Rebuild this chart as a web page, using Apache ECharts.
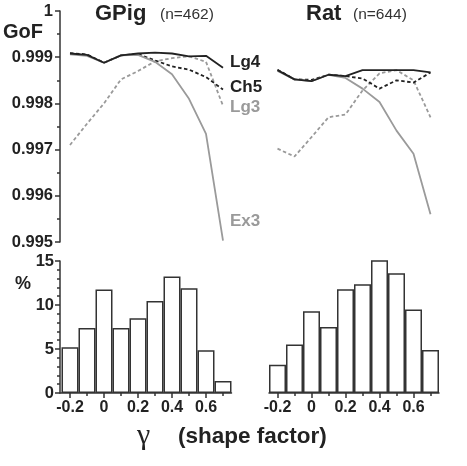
<!DOCTYPE html>
<html>
<head>
<meta charset="utf-8">
<script src="https://cdn.jsdelivr.net/npm/echarts@6/dist/echarts.min.js"></script>
<style>
html, body { margin: 0; padding: 0; background: #fff; }
#chart { width: 467px; height: 466px; }
</style>
</head>
<body>
<div id="chart"></div>
<script>
// shape factor values (x) shared by all panels
var gammaX = [-0.2, -0.1, 0, 0.1, 0.2, 0.3, 0.4, 0.5, 0.6, 0.7];
var majorTicks = [-0.2, 0, 0.2, 0.4, 0.6];
var minorTicks = [-0.1, 0.1, 0.3, 0.5, 0.7];

// GoF curves, guinea pig
var gpigLg4 = [0.99908, 0.99905, 0.99888, 0.99904, 0.99908, 0.9991, 0.99908, 0.99902, 0.99903, 0.99877];
var gpigCh5 = [0.99909, 0.99906, 0.99888, 0.99904, 0.99907, 0.99893, 0.9988, 0.99873, 0.99857, 0.9983];
var gpigLg3 = [0.9971, 0.99756, 0.998, 0.99852, 0.9987, 0.99891, 0.99898, 0.99902, 0.9989, 0.99795];
var gpigEx3 = [0.99906, 0.99903, 0.99888, 0.99904, 0.99905, 0.9989, 0.99863, 0.9981, 0.99734, 0.99503];

// GoF curves, rat
var ratLg4 = [0.99872, 0.99852, 0.99848, 0.99862, 0.99859, 0.99872, 0.99872, 0.99872, 0.99872, 0.99867];
var ratCh5 = [0.99873, 0.99852, 0.99851, 0.99862, 0.99859, 0.99854, 0.99832, 0.9985, 0.99845, 0.99867];
var ratLg3 = [0.99702, 0.99685, 0.99727, 0.9977, 0.99776, 0.99828, 0.99865, 0.99872, 0.9985, 0.9977];
var ratEx3 = [0.9987, 0.99852, 0.99848, 0.99862, 0.99855, 0.99832, 0.99803, 0.99741, 0.99691, 0.9956];

// histograms (%)
var gpigPct = [5.2, 7.4, 11.75, 7.4, 8.5, 10.45, 13.25, 11.9, 4.85, 1.35];
var ratPct = [3.2, 5.5, 9.3, 7.5, 11.8, 12.35, 15.45, 13.6, 9.5, 4.9];

var DARK = '#222';
var GREY = '#9a9a9a';
var FONT = 'Liberation Sans';

function pairs(xs, ys) {
    return xs.map(function (x, i) { return [x, ys[i]]; });
}

function lineSeries(grid, ys, color, dashed) {
    return {
        type: 'line',
        xAxisIndex: grid * 2,
        yAxisIndex: grid,
        data: pairs(gammaX, ys),
        symbol: 'none',
        silent: true,
        lineStyle: { color: color, width: 1.8, type: dashed ? [3.5, 2.5] : 'solid' },
        z: dashed ? 3 : 4
    };
}

function barSeries(grid, ys) {
    return {
        type: 'bar',
        xAxisIndex: grid * 2,
        yAxisIndex: grid,
        data: pairs(gammaX, ys),
        barWidth: 17,
        silent: true,
        itemStyle: { color: '#fff', borderColor: '#333', borderWidth: 1.5 }
    };
}

// two x axes per grid: major ticks with labels, minor short ticks
function xAxes(grid, min, max, visible) {
    return [{
        type: 'value', gridIndex: grid, min: min, max: max, position: 'bottom',
        show: visible,
        splitLine: { show: false },
        axisLine: { onZero: false, lineStyle: { color: '#333', width: 1.5 } },
        axisTick: { customValues: majorTicks, length: 5, lineStyle: { color: '#333', width: 1.5 } },
        axisLabel: {
            customValues: majorTicks, margin: 7, color: DARK,
            fontFamily: FONT, fontWeight: 'bold', fontSize: 16
        }
    }, {
        type: 'value', gridIndex: grid, min: min, max: max, position: 'bottom',
        show: visible,
        splitLine: { show: false },
        axisLine: { show: false },
        axisTick: { customValues: minorTicks, length: 3, lineStyle: { color: '#333', width: 1.5 } },
        axisLabel: { show: false }
    }];
}

var chart = echarts.init(document.getElementById('chart'));

var option = {
    animation: false,
    grid: [
        { left: 60, top: 11, width: 171.5, height: 231 },
        { left: 269, top: 11, width: 170, height: 231 },
        { left: 60, top: 261, width: 171.5, height: 132 },
        { left: 269, top: 261, width: 170, height: 132 }
    ],
    xAxis: [].concat(
        xAxes(0, -0.2588, 0.75, false),
        xAxes(1, -0.25, 0.75, false),
        xAxes(2, -0.2588, 0.75, true),
        xAxes(3, -0.25, 0.75, true)
    ),
    yAxis: [{
        type: 'value', gridIndex: 0, min: 0.995, max: 1, interval: 0.001,
        splitLine: { show: false },
        axisLine: { show: true, onZero: false, lineStyle: { color: '#333', width: 1.5 } },
        axisTick: { show: true, length: 5, lineStyle: { color: '#333', width: 1.5 } },
        minorTick: { show: true, splitNumber: 2, length: 3, lineStyle: { color: '#333', width: 1.5 } },
        axisLabel: { margin: 7, color: DARK, fontFamily: FONT, fontWeight: 'bold', fontSize: 16.5 }
    }, {
        type: 'value', gridIndex: 1, min: 0.995, max: 1, show: false,
        axisLine: { onZero: false }, splitLine: { show: false }
    }, {
        type: 'value', gridIndex: 2, min: 0, max: 15, interval: 5,
        splitLine: { show: false },
        axisLine: { show: true, onZero: false, lineStyle: { color: '#333', width: 1.5 } },
        axisTick: { show: true, length: 5, lineStyle: { color: '#333', width: 1.5 } },
        minorTick: { show: true, splitNumber: 5, length: 3, lineStyle: { color: '#333', width: 1.5 } },
        axisLabel: { margin: 6, color: DARK, fontFamily: FONT, fontWeight: 'bold', fontSize: 16.5 }
    }, {
        type: 'value', gridIndex: 3, min: 0, max: 15, show: false,
        axisLine: { onZero: false }, splitLine: { show: false }
    }],
    series: [
        lineSeries(0, gpigLg3, GREY, true),
        lineSeries(0, gpigEx3, GREY, false),
        lineSeries(0, gpigCh5, DARK, true),
        lineSeries(0, gpigLg4, DARK, false),
        lineSeries(1, ratLg3, GREY, true),
        lineSeries(1, ratEx3, GREY, false),
        lineSeries(1, ratCh5, DARK, true),
        lineSeries(1, ratLg4, DARK, false),
        barSeries(2, gpigPct),
        barSeries(3, ratPct)
    ],
    graphic: [
        { type: 'text', left: 3, top: 22, style: { text: 'GoF', fill: DARK, font: 'bold 20px "Liberation Sans"' } },
        { type: 'text', left: 95, top: 3, style: { text: 'GPig', fill: DARK, font: 'bold 22px "Liberation Sans"' } },
        { type: 'text', left: 160, top: 7, style: { text: '(n=462)', fill: '#333', font: '15.5px "Liberation Sans"' } },
        { type: 'text', left: 306, top: 3, style: { text: 'Rat', fill: DARK, font: 'bold 22px "Liberation Sans"' } },
        { type: 'text', left: 353, top: 7, style: { text: '(n=644)', fill: '#333', font: '15.5px "Liberation Sans"' } },
        { type: 'text', left: 230, top: 54, style: { text: 'Lg4', fill: DARK, font: 'bold 17px "Liberation Sans"' } },
        { type: 'text', left: 230, top: 79, style: { text: 'Ch5', fill: DARK, font: 'bold 17px "Liberation Sans"' } },
        { type: 'text', left: 230, top: 99, style: { text: 'Lg3', fill: GREY, font: 'bold 17px "Liberation Sans"' } },
        { type: 'text', left: 230, top: 213, style: { text: 'Ex3', fill: GREY, font: 'bold 17px "Liberation Sans"' } },
        { type: 'text', left: 15, top: 275, style: { text: '%', fill: DARK, font: 'bold 18px "Liberation Sans"' } },
        { type: 'text', left: 137, top: 421, style: { text: 'γ', fill: DARK, font: '30px "Liberation Serif"' } },
        { type: 'text', left: 178, top: 425, style: { text: '(shape factor)', fill: DARK, font: 'bold 22.5px "Liberation Sans"' } }
    ]
};

chart.setOption(option);
</script>
</body>
</html>
